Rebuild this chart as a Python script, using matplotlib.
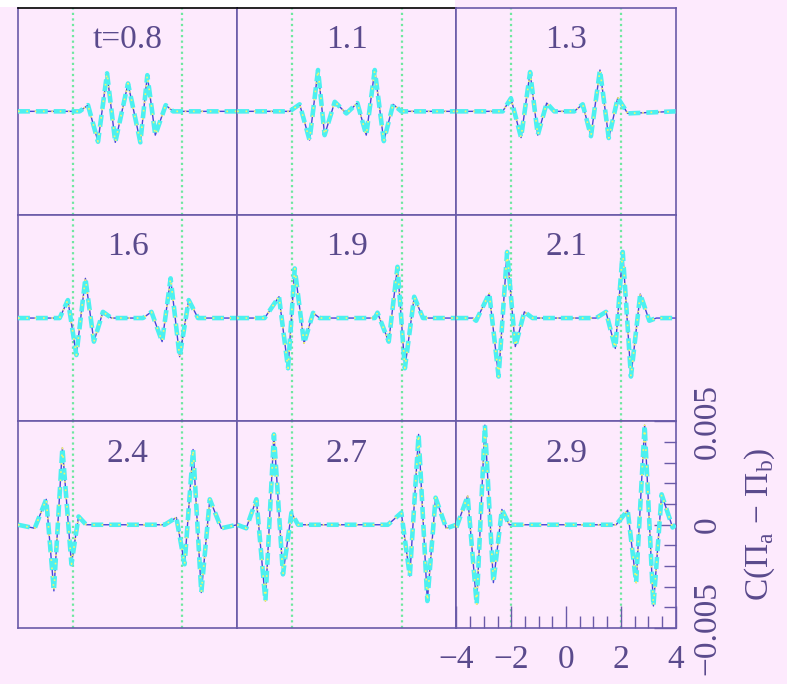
import matplotlib
matplotlib.use("Agg")
import matplotlib.pyplot as plt
import numpy as np
from matplotlib.ticker import MultipleLocator, FixedLocator
from matplotlib.patches import Rectangle

plt.rcParams['font.family'] = ['Liberation Serif', 'DejaVu Serif']
plt.rcParams['mathtext.fontset'] = 'custom'
plt.rcParams['mathtext.rm'] = 'Liberation Serif'

# ---- data (x positions and C(Pi_a - Pi_b) values in units of 1e-3) ----
labels = ["t=0.8", "1.1", "1.3", "1.6", "1.9", "2.1", "2.4", "2.7", "2.9"]

x_08 = [-4, -1.75, -1.445, -1.08, -0.75, -0.45, 0.015, 0.465, 0.72, 1.01, 1.39, 1.66, 4]
y_08 = [0, 0, 0.30, -1.47, 1.84, -1.50, 1.35, -1.50, 1.75, -1.15, 0.30, 0, 0]

x_11 = [-4, -2.085, -1.72, -1.36, -1.05, -0.81, -0.44, -0.015, 0.385, 0.71, 1.02, 1.35, 1.69, 1.99, 4]
y_11 = [0, 0, 0.34, -1.39, 2.0, -1.15, 0.46, -0.10, 0.40, -1.15, 2.0, -1.44, 0.34, 0, 0]

x_13 = [-4, -2.31, -2.01, -1.64, -1.31, -1.03, -0.705, -0.43, 0.30, 0.61, 0.91, 1.24, 1.56, 1.89, 2.25, 4]
y_13 = [0, 0, 0.63, -1.27, 1.90, -1.15, 0.40, 0, 0, 0.34, -1.20, 2.0, -1.29, 0.66, -0.10, 0]

x_16 = [-4, -2.48, -2.18, -1.87, -1.54, -1.23, -0.90, -0.59, 0.56, 0.87, 1.26, 1.57, 1.90, 2.23, 2.57, 4]
y_16 = [0, 0, 0.87, -1.79, 1.92, -1.14, 0.30, 0, 0, 0.30, -1.14, 1.92, -1.87, 0.87, 0, 0]

x_19 = [-4, -3.0, -2.475, -2.145, -1.90, -1.56, -1.23, -0.99, 1.02, 1.12, 1.53, 1.85, 2.12, 2.46, 2.78, 4]
y_19 = [0, 0, 1.03, -2.43, 2.40, -1.22, 0.25, 0, 0, 0.26, -1.14, 2.48, -2.43, 1.03, 0, 0]

x_21 = [-4, -3.4, -3.28, -2.80, -2.46, -2.15, -1.85, -1.52, -1.22, 1.10, 1.46, 1.80, 2.07, 2.37, 2.71, 3.04, 3.3, 4]
y_21 = [0, 0, -0.13, 1.19, -2.83, 3.20, -1.38, 0.30, 0, 0, 0.30, -1.47, 3.20, -2.83, 1.16, -0.13, 0, 0]

x_24 = [-4, -3.39, -2.97, -2.69, -2.38, -2.05, -1.79, -1.51, 1.35, 1.78, 2.08, 2.39, 2.69, 3.0, 3.42, 4]
y_24 = [0, -0.17, 1.23, -3.20, 3.72, -1.91, 0.40, 0, 0, 0.35, -1.91, 3.64, -3.28, 1.23, -0.17, 0]

x_27 = [-4, -3.67, -3.30, -2.97, -2.66, -2.33, -2.02, -1.78, 1.50, 1.99, 2.30, 2.62, 2.94, 3.24, 3.63, 4]
y_27 = [0, -0.17, 1.23, -3.69, 4.37, -2.40, 0.58, 0, 0, 0.58, -2.48, 4.37, -3.69, 1.31, -0.17, 0]

x_29 = [-4, -3.59, -3.26, -2.96, -2.65, -2.34, -2.07, 1.83, 2.25, 2.56, 2.87, 3.19, 3.49, 3.89, 4]
y_29 = [-0.13, 1.39, -3.85, 4.82, -2.80, 0.74, 0, 0, 0.70, -2.80, 4.82, -3.93, 1.47, -0.13, 0]

xs = [x_08, x_11, x_13, x_16, x_19, x_21, x_24, x_27, x_29]
ys = [y_08, y_11, y_13, y_16, y_19, y_21, y_24, y_27, y_29]

x_ticks = [-4, -2, 0, 2, 4]
y_ticks = [-0.005, 0, 0.005]
y_ticklabels = ["\u22120.005", "0", "0.005"]

# ---- style ----
BG = "#fdeafd"
FRAME = "#6a5aa8"
TEXT = "#5a4a8c"
GREEN = "#6ee8a0"
CYAN = "#4cf0f0"
BLUE = "#4646d8"
YELLOW = "#f6f66a"

W, H = 787, 684
fig = plt.figure(figsize=(W / 100, H / 100), dpi=100, facecolor=BG)
fig.add_artist(Rectangle((0, 1 - 7 / H), 455 / W, 7 / H, transform=fig.transFigure,
                         facecolor="white", edgecolor="none"))

L0, CW, T0, RH = 18, 219.2, 8, 206.7
for i in range(9):
    r, c = divmod(i, 3)
    ax = fig.add_axes([(L0 + c * CW) / W, (H - (T0 + (r + 1) * RH)) / H, CW / W, RH / H])
    ax.set_facecolor(BG)
    ax.set_xlim(-4, 4)
    ax.set_ylim(-0.005, 0.005)
    for s in ax.spines.values():
        s.set_color(FRAME)
        s.set_linewidth(1.2)
    if r == 0 and c < 2:
        ax.spines['top'].set_color("black")
    for xv in (-2, 2):
        ax.axvline(xv, color=GREEN, lw=1.6, ls=(0, (1, 1.5)), zorder=1)
    xv = np.array(xs[i])
    yv = np.array(ys[i]) * 1e-3
    ax.plot(xv, yv, color=BLUE, lw=1.0, zorder=2, solid_joinstyle='round')
    ax.plot(xv, yv, color=CYAN, lw=3.3, ls=(0, (2.6, 1.3)), zorder=3,
            dash_joinstyle='round', dash_capstyle='butt')
    ax.plot(xv, yv, color=YELLOW, lw=1.2, ls=(0, (1, 4)), zorder=4)
    ax.text(0, 0.00344, labels[i], ha='center', va='center', fontsize=24, color=TEXT, zorder=5)
    if i == 8:
        ax.xaxis.set_major_locator(FixedLocator(x_ticks))
        ax.xaxis.set_minor_locator(MultipleLocator(0.5))
        ax.set_xticklabels([("\u2212" + str(-v)) if v < 0 else str(v) for v in x_ticks])
        ax.tick_params(axis='x', which='major', direction='in', length=16, width=1.0,
                       color=FRAME, labelsize=24, labelcolor=TEXT, pad=12, top=False)
        ax.tick_params(axis='x', which='minor', direction='in', length=8.5, width=1.0,
                       color=FRAME, top=False)
        ax.yaxis.tick_right()
        ax.yaxis.set_major_locator(FixedLocator(y_ticks))
        ax.yaxis.set_minor_locator(MultipleLocator(0.001))
        ax.set_yticklabels(y_ticklabels, rotation=90, va='center')
        ax.tick_params(axis='y', which='major', direction='in', length=16, width=1.0,
                       color=FRAME, labelsize=24, labelcolor=TEXT, pad=12,
                       left=False, right=True)
        ax.tick_params(axis='y', which='minor', direction='in', length=8.5, width=1.0,
                       color=FRAME, left=False, right=True)
        ax.yaxis.set_label_position('right')
        ax.set_ylabel("C(\u03a0$_{\\rm a}$ \u2212 \u03a0$_{\\rm b}$)", rotation=90,
                      fontsize=24, color=TEXT, labelpad=14)
    else:
        ax.set_xticks([])
        ax.set_yticks([])

fig.savefig("out.png", dpi=100, facecolor=BG)
